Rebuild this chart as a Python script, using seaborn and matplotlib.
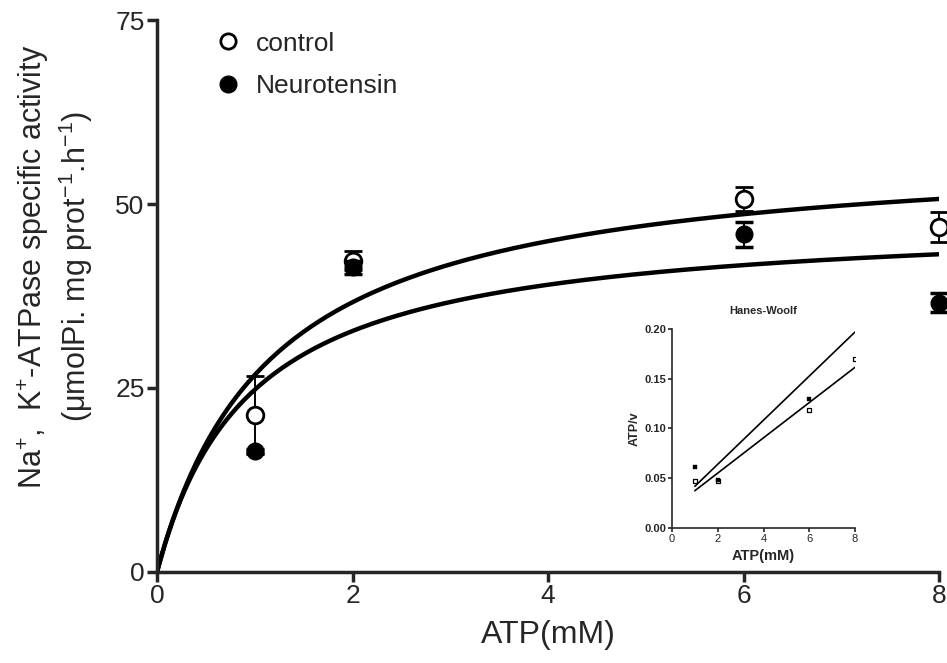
import numpy as np
import pandas as pd
import matplotlib
matplotlib.use("Agg")
import matplotlib.pyplot as plt
from matplotlib.lines import Line2D
import seaborn as sns

# === data ===
atp = [1, 2, 6, 8]
control_mean = [21.3, 42.3, 50.7, 46.9]
control_err = [5.3, 1.3, 1.6, 2.0]
neuro_mean = [16.4, 41.4, 45.9, 36.6]
neuro_err = [0.3, 0.9, 1.7, 1.25]

# Michaelis-Menten fits (Vmax, Km)
control_vmax, control_km = 58.1, 1.17
neuro_vmax, neuro_km = 48.3, 0.95

# Hanes-Woolf inset
hw_x = [1, 2, 6, 8]
hw_control = [0.047, 0.047, 0.1186, 0.170]
hw_neuro = [0.061, 0.048, 0.130, 0.217]
hw_line_x = [1, 8]
hw_line_control = [0.0375, 0.1615]
hw_line_neuro = [0.0419, 0.197]

sns.set_style("ticks")
plt.rcParams['font.family'] = ['Liberation Sans', 'DejaVu Sans']
plt.rcParams['mathtext.default'] = 'regular'

fig = plt.figure(figsize=(9.47, 6.63), dpi=100)
ax = fig.add_axes([0.1658, 0.1373, 0.8258, 0.8325])

# fitted curves
xs = np.linspace(0, 8, 200)
curves = pd.DataFrame({
    "x": np.concatenate([xs, xs]),
    "v": np.concatenate([control_vmax * xs / (control_km + xs),
                         neuro_vmax * xs / (neuro_km + xs)]),
    "grp": ["control"] * len(xs) + ["Neurotensin"] * len(xs),
})
sns.lineplot(data=curves, x="x", y="v", units="grp", estimator=None,
             color="black", lw=3.2, ax=ax, legend=False)

ax.errorbar(atp, control_mean, yerr=control_err, fmt="o", ms=12, mfc="white",
            mec="black", mew=2.0, ecolor="black", elinewidth=1.4, capsize=6.5,
            capthick=2.5, clip_on=False, zorder=4)
ax.errorbar(atp, neuro_mean, yerr=neuro_err, fmt="o", ms=12, mfc="black",
            mec="black", ecolor="black", elinewidth=1.4, capsize=6.5,
            capthick=2.5, clip_on=False, zorder=5)

ax.set_xlim(0, 8)
ax.set_ylim(0, 75)
ax.set_xticks([0, 2, 4, 6, 8])
ax.set_yticks([0, 25, 50, 75])
sns.despine(ax=ax)
for s in ["left", "bottom"]:
    ax.spines[s].set_linewidth(2.5)
ax.tick_params(width=2.5, length=7, labelsize=19, pad=2)
ax.set_xlabel("ATP(mM)", fontsize=23, labelpad=8)
ax.set_ylabel("Na$^{+}$,  K$^{+}$-ATPase specific activity\n(μmolPi. mg prot$^{-1}$.h$^{-1}$)",
              fontsize=22, linespacing=1.2)
ax.yaxis.set_label_coords(-0.079, 0.553)

handles = [
    Line2D([], [], ls="none", marker="o", ms=11, mfc="white", mec="black", mew=2),
    Line2D([], [], ls="none", marker="o", ms=12, mfc="black", mec="black"),
]
ax.legend(handles, ["control", "Neurotensin"], loc="upper left",
          bbox_to_anchor=(0.027, 1.022), frameon=False, fontsize=19,
          handletextpad=0.05, labelspacing=0.7)

# === inset: Hanes-Woolf ===
ins = fig.add_axes([0.7096, 0.2036, 0.1933, 0.3002])
ins.plot(hw_line_x, hw_line_control, color="black", lw=1.2)
ins.plot(hw_line_x, hw_line_neuro, color="black", lw=1.2)
sns.scatterplot(x=hw_x, y=hw_control, marker="s", s=12, facecolor="white",
                edgecolor="black", linewidth=0.9, ax=ins, zorder=3)
sns.scatterplot(x=hw_x, y=hw_neuro, marker="s", s=12, color="black",
                edgecolor="black", ax=ins, zorder=3)
ins.set_xlim(0, 8)
ins.set_ylim(0, 0.20)
ins.set_xticks([0, 2, 4, 6, 8])
ins.set_yticks([0, 0.05, 0.10, 0.15, 0.20])
ins.set_yticklabels(["0.00", "0.05", "0.10", "0.15", "0.20"], fontweight="bold")
sns.despine(ax=ins)
for s in ["left", "bottom"]:
    ins.spines[s].set_linewidth(1.2)
ins.tick_params(width=1.2, length=3, labelsize=8, pad=1)
ins.set_title("Hanes-Woolf", fontsize=8, fontweight="bold", pad=11)
ins.set_xlabel("ATP(mM)", fontsize=10.5, fontweight="bold", labelpad=4)
ins.set_ylabel("ATP/v", fontsize=9, fontweight="bold", labelpad=3)

fig.savefig("out.png", dpi=100)
